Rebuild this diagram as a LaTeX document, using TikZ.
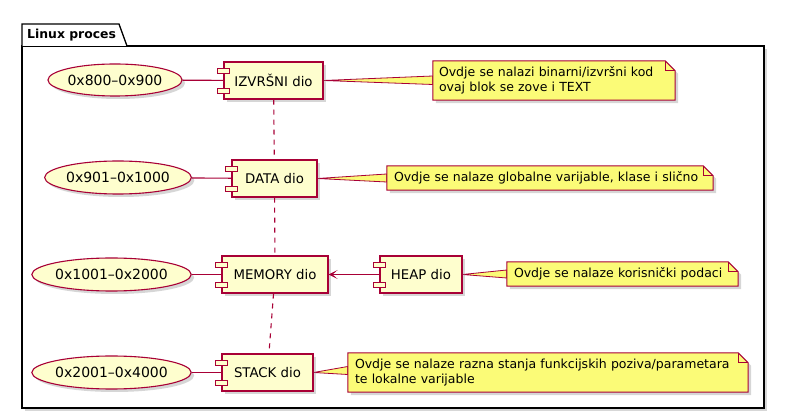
\documentclass[tikz,border=0pt]{standalone}
\usepackage{fontspec}
\setmainfont{DejaVu Sans}
\usetikzlibrary{shadows,arrows.meta,calc,shapes.geometric}
\definecolor{pred}{HTML}{A80036}
\definecolor{cfill}{HTML}{FEFECE}
\definecolor{nfill}{HTML}{FBFB77}
\pgfdeclarelayer{bg}
\pgfsetlayers{bg,main}
\begin{document}
\begin{tikzpicture}[x=1pt,y=-1pt,
  shd/.style={drop shadow={shadow xshift=3pt,shadow yshift=-3pt,opacity=0.35,fill=black!45}},
  comp/.style={draw=pred,fill=cfill,line width=1.1pt,inner sep=0pt,minimum height=37pt,shd,font=\fontsize{13.3}{15}\selectfont},
  addr/.style={ellipse,draw=pred,fill=cfill,line width=1.1pt,inner sep=0pt,shd,font=\fontsize{14}{16}\selectfont},
  note/.style={inner sep=0pt,align=left,font=\fontsize{12.5}{15}\selectfont},
  notepoly/.style={draw=pred,fill=nfill,line width=1pt,shd},
  ctab/.style={draw=pred,fill=cfill,line width=1.1pt},
  conn/.style={draw=pred,line width=1.1pt},
  dsh/.style={conn,dash pattern=on 5pt off 5pt},
  wedge/.style={draw=pred,fill=nfill,line width=0.8pt,line join=round}
]
\useasboundingbox (0,0) rectangle (785,419);

% address ellipses
\node[addr,minimum width=134pt,minimum height=32pt] (e1) at (115,80) {0x800–0x900};
\node[addr,minimum width=140pt,minimum height=33pt] (e2) at (118,177.5) {0x901–0x1000};
\node[addr,minimum width=147pt,minimum height=33pt] (e3) at (111.5,274.5) {0x1001–0x2000};
\node[addr,minimum width=147pt,minimum height=33pt] (e4) at (111.5,372.5) {0x2001–0x4000};

% components
\node[comp,minimum width=99pt] (izv) at (273.5,80.5) {IZVRŠNI dio};
\node[comp,minimum width=85pt] (data) at (274.5,178.5) {DATA dio};
\node[comp,minimum width=106pt] (mem) at (275,274.5) {MEMORY dio};
\node[comp,minimum width=82pt] (heap) at (421,274.5) {HEAP dio};
\node[comp,minimum width=91pt] (stack) at (267.5,372.5) {STACK dio};
\foreach \c in {izv,data,mem,heap,stack}{
  \draw[ctab] ($(\c.north west)+(-6,7)$) rectangle ++(12,5);
  \draw[ctab] ($(\c.south west)+(-6,-11)$) rectangle ++(12,5);
}

% notes (text)
\node[note,minimum width=242pt,minimum height=39pt,text width=230pt] (n1) at (554,80.5) {Ovdje se nalazi binarni/izvršni kod\\ovaj blok se zove i TEXT};
\node[note,minimum width=326pt,minimum height=24pt,text width=312pt] (n2) at (550,178) {Ovdje se nalaze globalne varijable, klase i slično};
\node[note,minimum width=231pt,minimum height=24pt,text width=217pt] (n3) at (622.5,274) {Ovdje se nalaze korisnički podaci};
\node[note,minimum width=400pt,minimum height=39pt,text width=386pt] (n4) at (548,372.5) {Ovdje se nalaze razna stanja funkcijskih poziva/parametara\\te lokalne varijable};

% title
\node[anchor=west,inner sep=0pt,font=\fontsize{12.4}{14}\selectfont\bfseries] (title) at (27,35) {Linux proces};

% connectors
\draw[conn] (e1) -- (izv);
\draw[conn] (e2) -- (data);
\draw[conn] (e3) -- (mem);
\draw[conn] (e4) -- (stack);
\draw[dsh] (izv) -- (data);
\draw[dsh] (data) -- (mem);
\draw[dsh] (mem) -- (stack);
\draw[conn,-{Stealth[length=9pt,width=9pt,inset=5pt]}] (heap) -- (mem);

\begin{pgfonlayer}{bg}
  % package frame
  \draw[black,line width=1.3pt,fill=white,shd] (22,46) rectangle (764,408);
  \draw[black,line width=1.3pt,fill=white] (22,46) -- (22,24) -- (119,24) -- (127,46);
  % wedges to notes
  \draw[wedge] (izv.east) -- ($(n1.west)+(0,-4.5)$) -- ($(n1.west)+(0,4)$) -- cycle;
  \draw[wedge] (data.east) -- ($(n2.west)+(0,-4)$) -- ($(n2.west)+(0,4)$) -- cycle;
  \draw[wedge] (heap.east) -- ($(n3.west)+(0,-4)$) -- ($(n3.west)+(0,4)$) -- cycle;
  \draw[wedge] (stack.east) -- ($(n4.west)+(0,-6)$) -- ($(n4.west)+(0,2)$) -- cycle;
  % note shapes
  \foreach \n in {n1,n2,n3,n4}{
    \path[notepoly] (\n.north west) -- ($(\n.north east)+(-10,0)$) -- ($(\n.north east)+(0,10)$) -- (\n.south east) -- (\n.south west) -- cycle;
    \draw[pred,line width=0.8pt] ($(\n.north east)+(-10,0)$) -- ($(\n.north east)+(-10,10)$) -- ($(\n.north east)+(0,10)$);
  }
\end{pgfonlayer}
\end{tikzpicture}
\end{document}
